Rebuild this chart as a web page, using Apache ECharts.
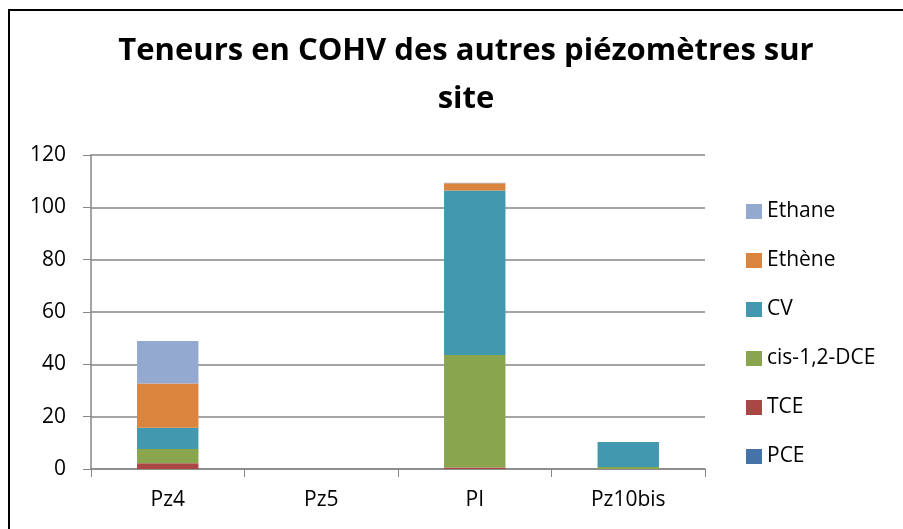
<!DOCTYPE html>
<html><head><meta charset="utf-8">
<script src="https://cdn.jsdelivr.net/npm/echarts@6/dist/echarts.min.js"></script>
<style>html,body{margin:0;padding:0;background:#fff}#c{width:903px;height:529px}</style>
</head><body><div id="c"></div>
<script>
var categories = ['Pz4', 'Pz5', 'PI', 'Pz10bis'];
var PCE = [0, 0, 0, 0];
var TCE = [2.2, 0, 0.6, 0];
var DCE = [5.4, 0, 43.0, 0.8];
var CV = [8.2, 0, 62.8, 9.5];
var Ethene = [16.9, 0, 2.8, 0];
var Ethane = [16.2, 0, 0.2, 0];
var yTicks = [0, 20, 40, 60, 80, 100, 120];

var font = 'Open Sans';
var chart = echarts.init(document.getElementById('c'));
function s(name, data, color) {
  return { name: name, type: 'bar', stack: 'a', data: data, barWidth: '40%',
    itemStyle: { color: color } };
}
chart.setOption({
  animation: false,
  graphic: [{ type: 'rect', shape: { x: 9, y: 10, width: 1000, height: 1000 },
    style: { fill: 'none', stroke: '#000', lineWidth: 2 } }],
  title: { text: 'Teneurs en COHV des autres piézomètres sur\nsite', left: 461, top: 22, textAlign: 'center',
    textStyle: { fontFamily: font, fontWeight: 'bold', fontSize: 31, lineHeight: 48, color: '#000' } },
  grid: { left: 91, right: 198, top: 155, bottom: 60 },
  legend: { orient: 'vertical', left: 746, top: 201, padding: 0, itemWidth: 16, itemHeight: 15, itemGap: 28,
    icon: 'rect', data: ['Ethane', 'Ethène', 'CV', 'cis-1,2-DCE', 'TCE', 'PCE'],
    textStyle: { fontFamily: font, fontSize: 21, color: '#000', lineHeight: 20 } },
  xAxis: { type: 'category', data: categories,
    axisLine: { lineStyle: { color: '#868686', width: 1.5 } },
    axisTick: { show: true, length: 8, alignWithLabel: false, lineStyle: { color: '#868686' } },
    axisLabel: { fontFamily: font, fontSize: 21, color: '#000', margin: 21 } },
  yAxis: { type: 'value', min: 0, max: 120, interval: 20,
    axisLine: { show: true, lineStyle: { color: '#868686', width: 1.5 } },
    axisTick: { show: true, length: 8, lineStyle: { color: '#868686' } },
    splitLine: { lineStyle: { color: '#868686', width: 1.5 } },
    axisLabel: { fontFamily: font, fontSize: 21, color: '#000', margin: 25,
      formatter: function (v) { return yTicks.indexOf(v) >= 0 ? String(v) : ''; } } },
  series: [
    s('PCE', PCE, '#4572A7'),
    s('TCE', TCE, '#AA4643'),
    s('cis-1,2-DCE', DCE, '#89A54E'),
    s('CV', CV, '#4198AF'),
    s('Ethène', Ethene, '#DB843D'),
    s('Ethane', Ethane, '#93A9CF')
  ]
});
</script></body></html>
